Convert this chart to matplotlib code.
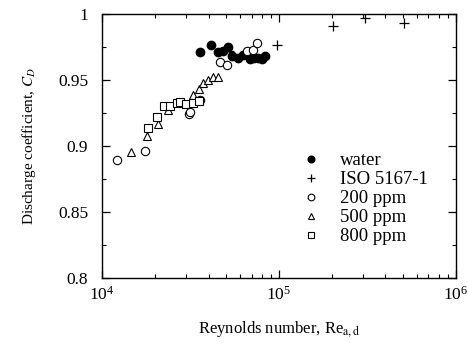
import matplotlib
matplotlib.use("Agg")
import matplotlib.pyplot as plt
from matplotlib.ticker import LogLocator, MultipleLocator, FuncFormatter, NullFormatter

plt.rcParams['font.family'] = ['Liberation Serif', 'DejaVu Serif']
plt.rcParams['mathtext.fontset'] = 'stix'

######################################################################
# water (filled circles)
re_water = [35.8e3, 41.3e3, 45.2e3, 48.0e3, 51.5e3, 54.2e3, 58.6e3, 62.6e3,
            68.6e3, 72.0e3, 76.0e3, 80.0e3, 83.3e3]
cd_water = [0.971, 0.9765, 0.971, 0.972, 0.975, 0.968, 0.967, 0.969,
            0.966, 0.967, 0.967, 0.966, 0.968]

# ISO 5167-1 (crosses)
re_iso = [52e3, 97.5e3, 2.02e5, 3.06e5, 5.08e5]
cd_iso = [0.972, 0.9765, 0.991, 0.997, 0.993]

# 200 ppm (open circles)
re_200 = [12.2e3, 17.5e3, 31.0e3, 31.5e3, 35.8e3, 46.4e3, 50.8e3, 65.9e3,
          71.3e3, 75.2e3]
cd_200 = [0.889, 0.896, 0.924, 0.926, 0.935, 0.9636, 0.961, 0.972,
          0.973, 0.978]

# 500 ppm (triangles)
re_500 = [14.6e3, 17.9e3, 20.7e3, 23.6e3, 32.7e3, 35.3e3, 37.2e3, 39.7e3,
          42.4e3, 45.2e3]
cd_500 = [0.8955, 0.9076, 0.9165, 0.927, 0.939, 0.943, 0.948, 0.950,
          0.952, 0.952]

# 800 ppm (squares)
re_800 = [18.2e3, 20.5e3, 22.5e3, 24.1e3, 26.5e3, 27.5e3, 29.8e3, 32.7e3,
          35.3e3]
cd_800 = [0.9136, 0.922, 0.9305, 0.930, 0.9326, 0.933, 0.932, 0.9326,
          0.934]
######################################################################

fig = plt.figure(figsize=(4.69, 3.55), dpi=100)
ax = fig.add_axes([0.2175, 0.217, 0.7545, 0.7436])

ms = 6
ax.plot(re_water, cd_water, 'o', color='black', ms=ms, label='water')
ax.plot(re_iso, cd_iso, '+', color='black', ms=7, mew=0.9, label='ISO 5167-1')
ax.plot(re_200, cd_200, 'o', mfc='white', mec='black', mew=0.8, ms=ms, label='200 ppm')
ax.plot(re_500, cd_500, '^', mfc='white', mec='black', mew=0.8, ms=ms, label='500 ppm')
ax.plot(re_800, cd_800, 's', mfc='white', mec='black', mew=0.8, ms=ms, label='800 ppm')

ax.set_xscale('log')
ax.set_xlim(1e4, 1e6)
ax.set_ylim(0.8, 1.0)
ax.xaxis.set_major_locator(LogLocator(base=10, numticks=5))
ax.xaxis.set_minor_locator(LogLocator(base=10, subs=range(2, 10), numticks=20))
ax.xaxis.set_minor_formatter(NullFormatter())
ax.yaxis.set_major_locator(MultipleLocator(0.05))
ax.yaxis.set_minor_locator(MultipleLocator(0.025))
ax.yaxis.set_major_formatter(FuncFormatter(lambda v, p: '%g' % round(v, 3)))

ax.tick_params(which='both', direction='in', top=True, right=True, labelsize=12.5)
ax.tick_params(which='major', length=6, width=0.9)
ax.tick_params(which='minor', length=3, width=0.8)
ax.tick_params(axis='x', pad=6)
ax.tick_params(axis='y', pad=10)
for s in ax.spines.values():
    s.set_linewidth(1.0)

ax.set_xlabel(r'Reynolds number, Re$_{\rm a,d}$', fontsize=12)
ax.set_ylabel(r'Discharge coefficient, $C_D$', fontsize=11)
ax.xaxis.set_label_coords(0.5, -0.155)
ax.yaxis.set_label_coords(-0.18, 0.5)

ax.legend(loc='upper left', bbox_to_anchor=(0.545, 0.505), frameon=False,
          fontsize=13.5, handlelength=0.9, handletextpad=1.1, labelspacing=0.1,
          borderaxespad=0, markerscale=0.8)

fig.savefig('out.png', dpi=100)
